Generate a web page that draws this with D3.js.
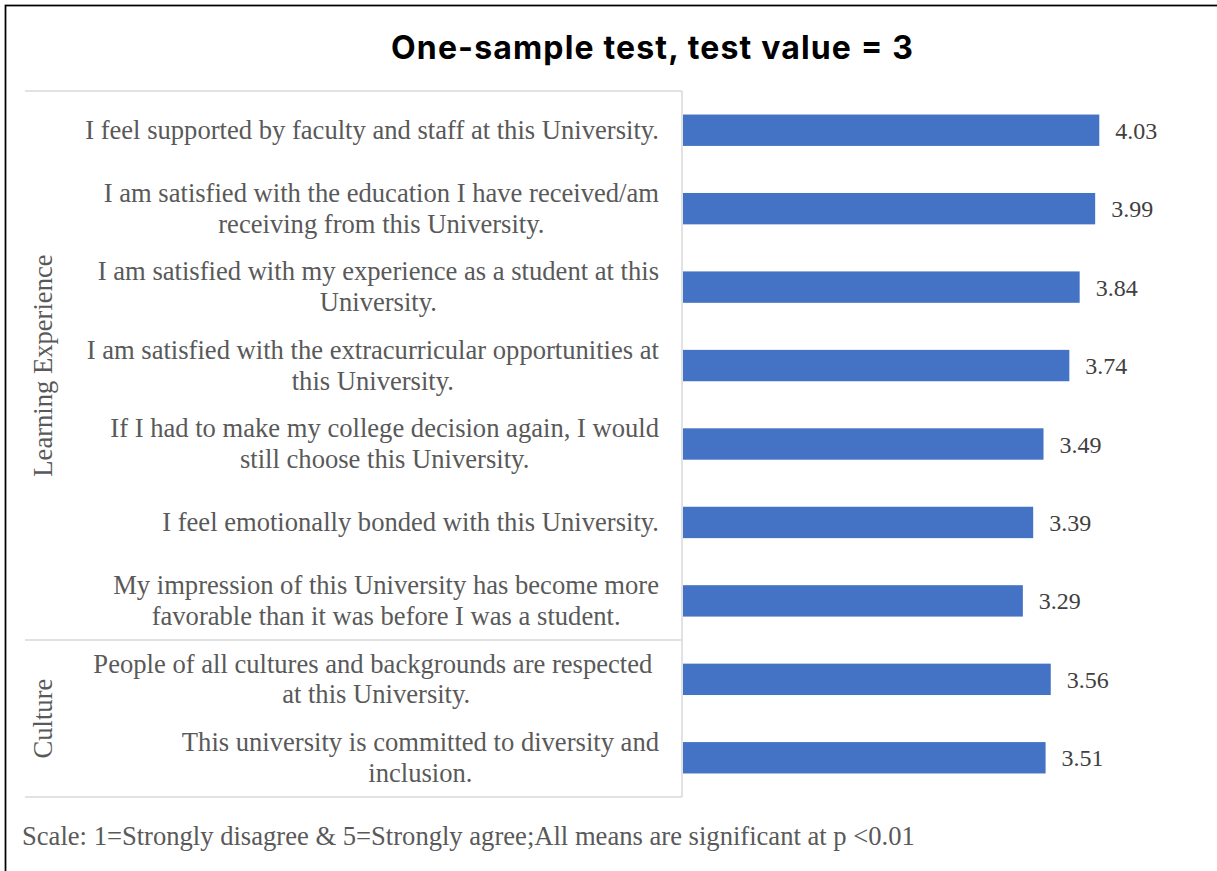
<!DOCTYPE html>
<html>
<head>
<meta charset="utf-8">
<script src="https://cdn.jsdelivr.net/npm/d3@7/dist/d3.min.js"></script>
<style>
  html, body { margin: 0; padding: 0; background: #fff; }
  svg { display: block; }
</style>
</head>
<body>
<svg id="chart" width="1217" height="871"></svg>
<script>
// Survey statements (line breaks follow the wrapped layout)
const categories = [
  "I feel supported by faculty and staff at this University.",
  "I am satisfied with the education I have received/am\nreceiving from this University.",
  "I am satisfied with my experience as a student at this\nUniversity.",
  "I am satisfied with the extracurricular opportunities at\nthis University.",
  "If I had to make my college decision again, I would\nstill choose this University.",
  "I feel emotionally bonded with this University.",
  "My impression of this University has become more\nfavorable than it was before I was a student.",
  "People of all cultures and backgrounds are respected \nat this University.",
  "This university is committed to diversity and\ninclusion."
];
// Mean scores
const values = [4.03, 3.99, 3.84, 3.74, 3.49, 3.39, 3.29, 3.56, 3.51];
// Group each statement belongs to
const groupOf = ["Learning Experience", "Learning Experience", "Learning Experience",
  "Learning Experience", "Learning Experience", "Learning Experience",
  "Learning Experience", "Culture", "Culture"];
const groups = ["Learning Experience", "Culture"];

const titleText = "One-sample test, test value = 3";
const noteText = "Scale: 1=Strongly disagree & 5=Strongly agree;All means are significant at p <0.01";

const svg = d3.select("#chart");
const serif = "'Liberation Serif', 'Times New Roman', serif";
const labelColor = "#595959";
const gridColor = "#d9d9d9";
const labelSize = 26.6;

// outer frame
svg.append("rect")
  .attr("x", 5.5).attr("y", 5.5)
  .attr("width", 1400).attr("height", 1200)
  .attr("fill", "none").attr("stroke", "#000").attr("stroke-width", 1.75);

// title
svg.append("text")
  .attr("x", 652).attr("y", 59)
  .attr("text-anchor", "middle")
  .attr("font-family", "Inter, 'Open Sans', sans-serif")
  .attr("font-weight", 700)
  .attr("font-size", 32)
  .attr("textLength", 522)
  .attr("lengthAdjust", "spacing")
  .attr("fill", "#000")
  .text(titleText);

const plotTop = 91, plotBottom = 797;
const tableLeft = 25, axisX = 682;

const y = d3.scaleBand()
  .domain(d3.range(categories.length))
  .range([plotTop, plotBottom])
  .paddingInner(0.6)
  .paddingOuter(0.3);

const x = d3.scaleLinear().domain([0, 5]).range([683, 1199.5]);

// category table lines
const groupBounds = groups.map(g => {
  const idx = d3.range(categories.length).filter(i => groupOf[i] === g);
  const top = y(idx[0]) - y.step() * y.paddingOuter();
  const bottom = y(idx[idx.length - 1]) + y.bandwidth() + y.step() * y.paddingOuter();
  return { name: g, top, bottom };
});
const hLines = [plotTop, ...groupBounds.map(b => b.bottom)];
svg.append("g").selectAll("line").data(hLines).join("line")
  .attr("x1", tableLeft).attr("x2", axisX)
  .attr("y1", d => d).attr("y2", d => d)
  .attr("stroke", gridColor).attr("stroke-width", 1.5);
svg.append("line")
  .attr("x1", axisX).attr("x2", axisX)
  .attr("y1", plotTop).attr("y2", plotBottom)
  .attr("stroke", gridColor).attr("stroke-width", 1.5);

// bars
svg.append("g").selectAll("rect").data(values).join("rect")
  .attr("x", x(0))
  .attr("y", (d, i) => y(i))
  .attr("width", d => x(d) - x(0))
  .attr("height", y.bandwidth())
  .attr("fill", "#4472C4");

// value labels
svg.append("g").selectAll("text").data(values).join("text")
  .attr("x", d => x(d) + 16)
  .attr("y", (d, i) => y(i) + y.bandwidth() / 2 + 8.6)
  .attr("font-family", serif)
  .attr("font-size", 24)
  .attr("fill", "#404040")
  .text(d => d.toFixed(2));

// category labels: block right-aligned, lines centred within the block
const labelRight = 659;
const lineGap = 30.7;
const labelG = svg.append("g");
categories.forEach((c, i) => {
  const lines = c.split("\n");
  const cy = y(i) + y.bandwidth() / 2;
  const t = labelG.append("text")
    .attr("font-family", serif)
    .attr("font-size", labelSize)
    .attr("fill", labelColor)
    .attr("text-anchor", "middle")
    .style("white-space", "pre");
  const spans = lines.map((ln, k) => t.append("tspan")
    .attr("y", cy + 8.6 + (k - (lines.length - 1) / 2) * lineGap)
    .text(ln));
  const maxW = d3.max(spans, s => s.node().getComputedTextLength());
  spans.forEach(s => s.attr("x", labelRight - maxW / 2));
});

// group labels (rotated)
svg.append("g").selectAll("text").data(groupBounds).join("text")
  .attr("transform", d => `translate(51.5,${(d.top + d.bottom) / 2}) rotate(-90)`)
  .attr("text-anchor", "middle")
  .attr("font-family", serif)
  .attr("font-size", labelSize)
  .attr("fill", labelColor)
  .text(d => d.name);

// footnote
svg.append("text")
  .attr("x", 22).attr("y", 845)
  .attr("font-family", serif)
  .attr("font-size", labelSize)
  .attr("fill", labelColor)
  .text(noteText);
</script>
</body>
</html>
